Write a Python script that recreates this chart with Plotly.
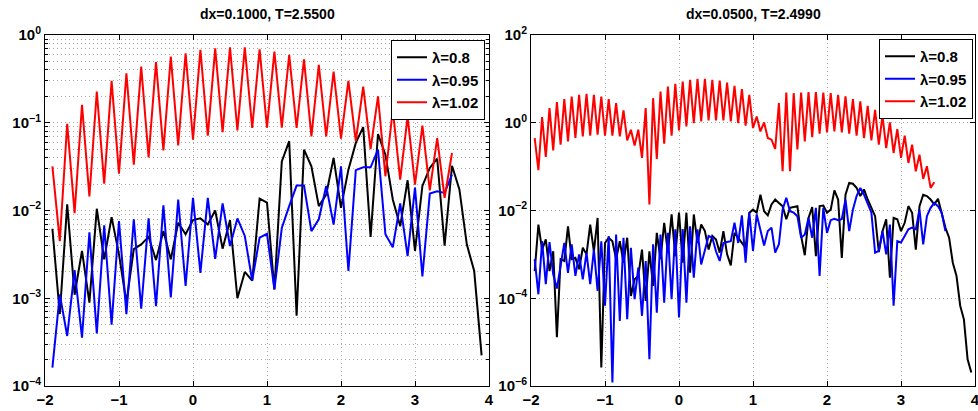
import plotly.graph_objects as go

# ---------------- data (log10 of the plotted values) ----------------
LEFT_TITLE = "dx=0.1000, T=2.5500"
RIGHT_TITLE = "dx=0.0500, T=2.4990"
LEGEND_NAMES = ["λ=0.8", "λ=0.95", "λ=1.02"]

LEFT_X0, LEFT_DX = -1.9, 0.1
RIGHT_X0, RIGHT_DX = -1.95, 0.05

LEFT_BLACK_LOG10 = [
    -2.208, -3.18, -1.93, -2.96, -2.46, -3.05, -1.98, -2.557, -2.076, -2.5,
    -3.05, -2.44, -2.386, -2.30, -2.565, -2.235, -2.557, -2.14, -2.27, -2.11,
    -2.09, -2.16, -2.0, -2.435, -2.11, -3.0, -2.70, -2.80, -1.864, -1.91,
    -2.90, -1.44, -1.21, -3.20, -1.307, -1.497, -1.95, -1.82, -1.40, -1.97,
    -1.534, -1.23, -1.05, -2.30, -1.128, -1.364, -1.875, -2.18, -1.655, -2.46,
    -1.72, -1.515, -1.41, -2.40, -1.49, -1.76, -2.386, -2.69, -3.65]
LEFT_BLUE_LOG10 = [
    -3.79, -2.955, -3.43, -2.68, -3.45, -2.25, -3.40, -2.17, -3.30, -2.12,
    -3.18, -2.10, -3.12, -2.09, -3.09, -1.94, -2.99, -1.875, -2.86, -1.856,
    -2.71, -1.856, -2.55, -1.92, -2.405, -2.09, -2.29, -2.80, -2.31, -2.265,
    -2.90, -2.20, -1.95, -1.716, -1.716, -2.235, -2.10, -1.72, -2.16, -1.497,
    -2.69, -1.54, -1.508, -1.508, -1.307, -2.27, -2.42, -1.92, -2.52, -1.74,
    -2.75, -1.807, -1.78, -1.80, -1.59]
LEFT_RED_LOG10 = [
    -1.497, -2.35, -1.011, -2.03, -0.795, -1.84, -0.644, -1.693, -0.523, -1.58,
    -0.436, -1.477, -0.36, -1.394, -0.31, -1.315, -0.246, -1.258, -0.208, -1.193,
    -0.17, -1.148, -0.152, -1.106, -0.14, -1.087, -0.14, -1.06, -0.163, -1.055,
    -0.19, -1.055, -0.227, -1.06, -0.277, -1.155, -0.34, -1.155, -0.417, -1.18,
    -0.523, -1.21, -0.587, -1.30, -0.70, -1.61, -0.852, -1.648, -0.93, -1.705,
    -1.034, -1.77, -1.174, -1.856, -1.345]

RIGHT_BLACK_LOG10 = [
    -3.38, -2.32, -2.89, -2.66, -3.38, -2.93, -4.89, -3.11, -3.15, -2.36,
    -3.11, -3.08, -3.34, -2.85, -3.0, -2.32, -2.93, -2.17, -5.58, -2.74,
    -2.62, -2.70, -3.11, -2.70, -3.19, -2.62, -3.95, -3.57, -3.49, -2.89,
    -4.06, -2.93, -3.72, -2.51, -3.11, -2.28, -2.96, -2.09, -3.04, -2.05,
    -3.19, -2.05, -3.42, -2.09, -2.74, -2.32, -2.47, -2.89, -2.58, -2.66,
    -2.96, -2.47, -3.0, -3.25, -2.51, -2.62, -2.74, -2.85, -2.05, -1.98,
    -2.05, -1.64, -2.015, -2.11, -1.86, -1.75, -1.83, -1.90, -2.20, -1.94,
    -1.92, -1.90, -2.58, -3.02, -2.17, -1.92, -3.04, -1.90, -1.886, -2.05,
    -1.98, -1.54, -1.75, -3.08, -1.64, -1.37, -1.39, -1.485, -1.67, -1.52,
    -1.75, -1.94, -2.13, -2.95, -2.47, -2.20, -3.53, -2.17, -2.20, -2.47,
    -2.28, -1.90, -2.05, -2.89, -1.90, -1.64, -1.67, -1.75, -1.86, -1.735,
    -2.05, -2.39, -2.62, -3.19, -3.49, -4.17, -4.48, -5.39, -5.69]
RIGHT_BLUE_LOG10 = [
    -3.11, -3.91, -2.70, -3.68, -2.72, -3.455, -3.78, -3.30, -2.74, -3.42,
    -2.77, -3.49, -3.0, -3.57, -2.96, -3.68, -2.89, -3.83, -2.70, -4.17,
    -2.58, -5.92, -2.55, -4.52, -2.62, -4.48, -2.85, -4.02, -3.30, -4.40,
    -3.15, -5.39, -2.77, -4.33, -2.55, -4.10, -2.51, -4.02, -2.43, -4.44,
    -2.42, -4.10, -2.36, -3.53, -2.43, -3.23, -2.93, -2.58, -2.62, -2.93,
    -3.15, -2.74, -2.72, -2.70, -2.28, -2.74, -2.11, -3.19, -2.05, -2.92,
    -2.09, -2.47, -2.80, -2.47, -2.39, -2.96, -2.77, -1.98, -1.71, -2.015,
    -2.05, -2.13, -2.62, -2.545, -2.17, -2.62, -1.94, -3.49, -1.94, -2.51,
    -2.22, -2.19, -2.22, -2.20, -1.75, -2.47, -1.98, -1.67, -1.485, -1.64,
    -1.83, -2.05, -2.96, -2.92, -2.47, -3.0, -2.32, -4.17, -2.70, -2.73,
    -2.58, -2.43, -2.39, -2.43, -1.98, -2.77, -2.13, -1.94, -1.83, -1.90,
    -2.05, -2.47]
RIGHT_RED_LOG10 = [
    -0.348, -1.08, 0.13, -0.78, 0.333, -0.63, 0.47, -0.5, 0.538, -0.424,
    0.598, -0.348, 0.636, -0.31, 0.66, -0.295, 0.636, -0.273, 0.598, -0.295,
    0.538, -0.295, 0.447, -0.31, 0.28, -0.40, -0.159, -0.52, -0.159, -0.80,
    0.333, -1.86, 0.56, -0.826, 0.712, -0.477, 0.826, -0.295, 0.886, -0.174,
    0.94, -0.083, 0.977, -0.007, 1.0, 0.03, 1.0, 0.053, 0.977, 0.053,
    0.96, 0.053, 0.917, 0.03, 0.841, -0.007, 0.765, -0.068, 0.636, -0.12,
    0.144, -0.197, 0.008, -0.348, -0.386, -0.598, 0.447, -1.106, 0.69, -1.106,
    0.674, -0.61, 0.69, -0.424, 0.697, -0.326, 0.697, -0.25, 0.69, -0.22,
    0.674, -0.197, 0.636, -0.22, 0.599, -0.25, 0.538, -0.295, 0.485, -0.348,
    0.386, -0.401, 0.296, -0.5, 0.16, -0.576, 0.008, -0.689, -0.144, -0.8,
    -0.295, -0.917, -0.5, -1.106, -0.727, -1.28, -0.992, -1.485, -1.356]

X_TICKS = [-2, -1, 0, 1, 2, 3, 4]
X_TICKTEXT = ["−2", "−1", "0", "1", "2", "3", "4"]
LEFT_Y_EXP = [-4, -3, -2, -1, 0]
RIGHT_Y_EXP = [-6, -4, -2, 0, 2]

COLORS = ["#000000", "#0000ff", "#ff0000"]

# ---------------- helpers ----------------
def xs(x0, dx, n):
    return [round(x0 + dx * i, 4) for i in range(n)]

def vals(logs):
    return [10 ** v for v in logs]

def sup(e):
    s = str(e).replace("-", "−")
    return f"10<sup>{s}</sup>"

W, H = 978, 411
FONT = "Liberation Sans, Arial, sans-serif"
GRIDCOL = "#a8a8a8"
GRIDDASH = "1px,3px"

fig = go.Figure()

left_series = [LEFT_BLACK_LOG10, LEFT_BLUE_LOG10, LEFT_RED_LOG10]
right_series = [RIGHT_BLACK_LOG10, RIGHT_BLUE_LOG10, RIGHT_RED_LOG10]

for name, col, s in zip(LEGEND_NAMES, COLORS, left_series):
    fig.add_trace(go.Scatter(x=xs(LEFT_X0, LEFT_DX, len(s)), y=vals(s), mode="lines",
                             line=dict(color=col, width=2), name=name,
                             xaxis="x", yaxis="y", legend="legend"))
for name, col, s in zip(LEGEND_NAMES, COLORS, right_series):
    fig.add_trace(go.Scatter(x=xs(RIGHT_X0, RIGHT_DX, len(s)), y=vals(s), mode="lines",
                             line=dict(color=col, width=2), name=name,
                             xaxis="x2", yaxis="y2", legend="legend2"))

tickfont = dict(family=FONT, size=15, color="black", weight="bold")
grid = dict(showgrid=True, gridcolor=GRIDCOL, griddash=GRIDDASH, gridwidth=1)
axline = dict(showline=True, linecolor="black", linewidth=1, mirror="ticks",
              ticks="inside", ticklen=5, tickcolor="black", zeroline=False,
              automargin=False, tickfont=tickfont, ticklabeloverflow="allow")

ytop = 1 - 35 / H
ybot = 1 - 386 / H
Ldom = [45 / W, 489 / W]
Rdom = [531 / W, 975 / W]

minor_left = [k * 10 ** e for e in range(-4, 0) for k in range(2, 10)]

legend_common = dict(xanchor="right", yanchor="top",
                     bordercolor="black", borderwidth=1, bgcolor="white",
                     font=dict(family=FONT, size=15, color="black", weight="bold"),
                     tracegroupgap=0, itemwidth=30)

fig.update_layout(
    width=W, height=H,
    margin=dict(l=0, r=0, t=0, b=0),
    paper_bgcolor="white", plot_bgcolor="white",
    font=dict(family=FONT, color="black"),
    xaxis=dict(domain=Ldom, range=[-2, 4], anchor="y", tickvals=X_TICKS,
               ticktext=X_TICKTEXT, **grid, **axline),
    yaxis=dict(domain=[ybot, ytop], type="log", range=[-4, 0], anchor="x",
               tickvals=[10 ** e for e in LEFT_Y_EXP],
               ticktext=[sup(e) for e in LEFT_Y_EXP],
               minor=dict(tickvals=minor_left, ticks="inside", ticklen=3,
                          tickcolor="black", showgrid=True,
                          gridcolor=GRIDCOL, griddash=GRIDDASH, gridwidth=1),
               **grid, **axline),
    xaxis2=dict(domain=Rdom, range=[-2, 4], anchor="y2", tickvals=X_TICKS,
                ticktext=X_TICKTEXT, **grid, **axline),
    yaxis2=dict(domain=[ybot, ytop], type="log", range=[-6, 2], anchor="x2",
                tickvals=[10 ** e for e in RIGHT_Y_EXP],
                ticktext=[sup(e) for e in RIGHT_Y_EXP],
                **grid, **axline),
    legend=dict(x=485 / W, y=1 - 40 / H, **legend_common),
    legend2=dict(x=973 / W, y=1 - 39 / H, **legend_common),
    annotations=[
        dict(text=LEFT_TITLE, x=(Ldom[0] + Ldom[1]) / 2, y=1 - 14 / H, xref="paper",
             yref="paper", showarrow=False, xanchor="center", yanchor="middle",
             font=dict(family=FONT, size=14, color="black", weight="bold")),
        dict(text=RIGHT_TITLE, x=(Rdom[0] + Rdom[1]) / 2, y=1 - 14 / H, xref="paper",
             yref="paper", showarrow=False, xanchor="center", yanchor="middle",
             font=dict(family=FONT, size=14, color="black", weight="bold")),
    ],
)

fig.write_html("out.html",
               config={"displayModeBar": False},
               post_script="document.body.style.margin='0';document.body.style.overflow='hidden';")
